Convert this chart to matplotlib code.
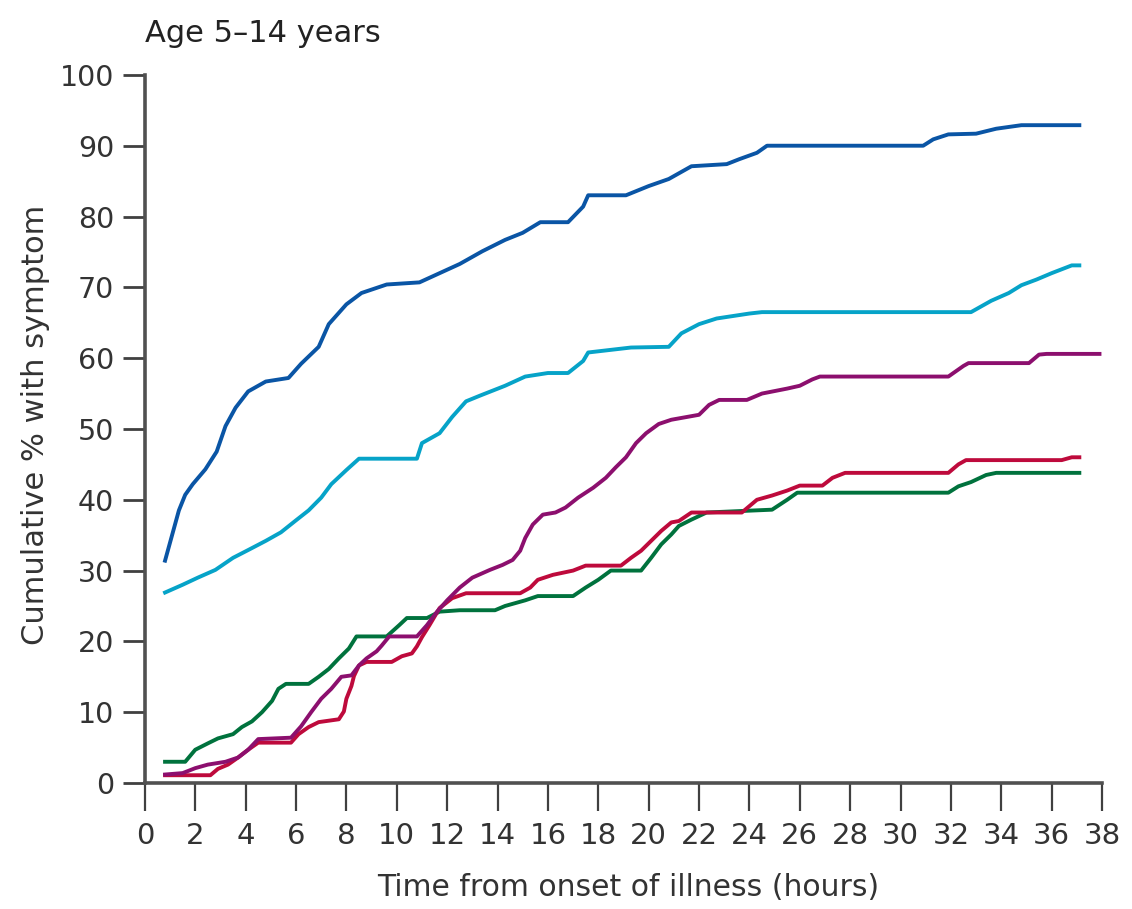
import matplotlib
matplotlib.use("Agg")
import matplotlib.pyplot as plt

# ---- data (hours from onset, cumulative % with symptom) ----
t_fever = [0.8, 1.35, 1.6, 1.9, 2.4, 2.85, 3.2, 3.6, 4.1, 4.8, 5.7, 6.2, 6.9, 7.3, 8.0, 8.6, 9.6, 10.9,
           11.7, 12.5, 13.4, 14.3, 15.0, 15.7, 16.8, 17.4, 17.6, 19.1, 20.0, 20.8, 21.7, 23.1, 23.6,
           24.3, 24.7, 30.9, 31.3, 31.9, 33.0, 33.8, 34.8, 37.1]
v_fever = [31.4, 38.5, 40.7, 42.2, 44.3, 46.8, 50.4, 53.0, 55.3, 56.7, 57.2, 59.2, 61.6, 64.8, 67.6, 69.2,
           70.4, 70.7, 72.0, 73.3, 75.1, 76.7, 77.7, 79.2, 79.2, 81.4, 83.0, 83.0, 84.3, 85.3, 87.1,
           87.4, 88.1, 89.0, 90.0, 90.0, 90.9, 91.6, 91.7, 92.4, 92.9, 92.9]

t_cyan = [0.8, 1.5, 2.1, 2.8, 3.5, 4.1, 4.8, 5.4, 6.0, 6.5, 7.0, 7.4, 8.0, 8.5, 10.8, 11.0, 11.7, 12.2,
          12.75, 13.3, 14.3, 15.1, 16.0, 16.8, 17.4, 17.6, 19.3, 20.8, 21.3, 22.0, 22.7, 24.0, 24.5,
          32.8, 33.6, 34.3, 34.8, 35.4, 36.0, 36.8, 37.1]
v_cyan = [26.9, 28.0, 29.0, 30.1, 31.8, 32.9, 34.2, 35.4, 37.1, 38.5, 40.3, 42.2, 44.2, 45.8, 45.8, 48.0,
          49.4, 51.7, 53.9, 54.7, 56.1, 57.4, 57.9, 57.9, 59.6, 60.8, 61.5, 61.6, 63.5, 64.8, 65.6,
          66.3, 66.5, 66.5, 68.1, 69.2, 70.3, 71.1, 72.0, 73.1, 73.1]

t_purple = [0.8, 1.5, 2.0, 2.5, 3.2, 3.7, 4.1, 4.5, 5.8, 6.2, 6.6, 7.0, 7.4, 7.8, 8.2, 8.5, 8.8, 9.2, 9.4,
            9.7, 10.8, 11.2, 11.6, 12.0, 12.5, 13.0, 13.7, 14.2, 14.6, 14.9, 15.1, 15.4, 15.8, 16.3,
            16.7, 17.2, 17.8, 18.3, 18.7, 19.1, 19.5, 19.9, 20.4, 20.9, 22.0, 22.4, 22.8, 23.9, 24.5,
            25.5, 26.0, 26.5, 26.8, 31.9, 32.5, 32.7, 35.1, 35.5, 35.8, 37.9]
v_purple = [1.2, 1.4, 2.1, 2.6, 3.0, 3.6, 4.7, 6.2, 6.4, 8.0, 10.0, 11.9, 13.3, 15.0, 15.2, 16.6, 17.6,
            18.6, 19.4, 20.7, 20.7, 22.3, 24.2, 25.8, 27.6, 29.0, 30.1, 30.8, 31.5, 32.8, 34.6, 36.5,
            37.9, 38.2, 38.9, 40.3, 41.7, 43.1, 44.6, 46.0, 48.0, 49.4, 50.7, 51.3, 52.0, 53.4, 54.1,
            54.1, 55.0, 55.7, 56.1, 57.0, 57.4, 57.4, 58.9, 59.3, 59.3, 60.5, 60.6, 60.6]

t_red = [0.8, 2.6, 2.9, 3.3, 3.7, 4.1, 4.5, 5.8, 6.1, 6.5, 6.9, 7.7, 7.9, 8.0, 8.2, 8.3, 8.5, 8.8, 9.8,
         10.2, 10.6, 10.8, 11.0, 11.3, 11.7, 12.2, 12.75, 14.9, 15.3, 15.6, 16.2, 17.0, 17.5, 18.9,
         19.3, 19.7, 20.1, 20.5, 20.9, 21.2, 21.7, 23.7, 24.3, 24.9, 25.5, 26.0, 26.9, 27.3, 27.8,
         31.9, 32.3, 32.6, 36.4, 36.8, 37.1]
v_red = [1.1, 1.1, 2.0, 2.6, 3.6, 4.7, 5.7, 5.7, 6.9, 7.9, 8.6, 9.0, 10.1, 11.9, 13.7, 15.1, 16.6, 17.1,
         17.1, 17.9, 18.3, 19.3, 20.6, 22.3, 24.7, 26.1, 26.8, 26.8, 27.6, 28.7, 29.4, 30.0, 30.7,
         30.7, 31.8, 32.8, 34.2, 35.6, 36.8, 37.0, 38.2, 38.2, 40.0, 40.6, 41.3, 42.0, 42.0, 43.1,
         43.8, 43.8, 45.0, 45.6, 45.6, 46.0, 46.0]

t_green = [0.8, 1.6, 2.0, 2.5, 2.9, 3.5, 3.85, 4.25, 4.65, 5.05, 5.3, 5.6, 6.5, 6.9, 7.3, 7.7, 8.1, 8.4,
           9.6, 10.1, 10.4, 11.2, 11.7, 12.5, 13.9, 14.3, 15.1, 15.6, 17.0, 17.5, 18.0, 18.5, 19.7,
           20.1, 20.5, 20.9, 21.2, 21.7, 22.3, 24.9, 25.5, 25.9, 31.9, 32.3, 32.8, 33.4, 33.8, 37.1]
v_green = [3.0, 3.0, 4.7, 5.6, 6.3, 6.9, 7.9, 8.7, 10.0, 11.6, 13.3, 14.0, 14.0, 15.0, 16.1, 17.6, 19.0,
           20.7, 20.7, 22.3, 23.3, 23.3, 24.2, 24.4, 24.4, 25.0, 25.8, 26.4, 26.4, 27.6, 28.7, 30.0,
           30.0, 31.8, 33.7, 35.1, 36.3, 37.2, 38.2, 38.6, 40.0, 41.0, 41.0, 41.9, 42.5, 43.5, 43.8,
           43.8]

x_ticks = list(range(0, 39, 2))
y_ticks = list(range(0, 101, 10))
title = "Age 5\u201314 years"
xlabel = "Time from onset of illness (hours)"
ylabel = "Cumulative % with symptom"

# ---- figure ----
fig = plt.figure(figsize=(11.32, 9.09), dpi=100)
ax = fig.add_axes([0.128, 0.1386, 0.8455, 0.779])

lw = 2.8
ax.plot(t_fever, v_fever, color="#0a55a5", lw=lw, solid_joinstyle="round")
ax.plot(t_cyan, v_cyan, color="#06a3c8", lw=lw, solid_joinstyle="round")
ax.plot(t_green, v_green, color="#00723d", lw=lw, solid_joinstyle="round")
ax.plot(t_red, v_red, color="#be0a3c", lw=lw, solid_joinstyle="round")
ax.plot(t_purple, v_purple, color="#8c0f6e", lw=lw, solid_joinstyle="round")

ax.set_xlim(0, 38)
ax.set_ylim(0, 100)
ax.set_xticks(x_ticks)
ax.set_yticks(y_ticks)
ax.set_xticklabels([str(v) for v in x_ticks], family=["DejaVu Sans"], fontsize=21, color="#333333")
ax.set_yticklabels([str(v) for v in y_ticks], family=["DejaVu Sans"], fontsize=20.5, color="#333333")

for s in ["top", "right"]:
    ax.spines[s].set_visible(False)
for s in ["left", "bottom"]:
    ax.spines[s].set_color("#505050")
    ax.spines[s].set_linewidth(2.6)
ax.spines["bottom"].set_bounds(0, 38)
ax.tick_params(axis="x", direction="out", length=20, width=1.6, color="#404040", pad=8)
ax.tick_params(axis="y", direction="out", length=16, width=2.0, color="#404040", pad=6)

fig.text(145 / 1132, 1 - 33 / 909, title, ha="left", va="center", fontsize=22, color="#222222")
fig.text(628 / 1132, 1 - 887 / 909, xlabel, ha="center", va="center", fontsize=21.5, color="#333333")
fig.text(36 / 1132, 1 - 425 / 909, ylabel, ha="center", va="center", rotation=90, fontsize=22,
         color="#333333")

fig.savefig("out.png", dpi=100)
